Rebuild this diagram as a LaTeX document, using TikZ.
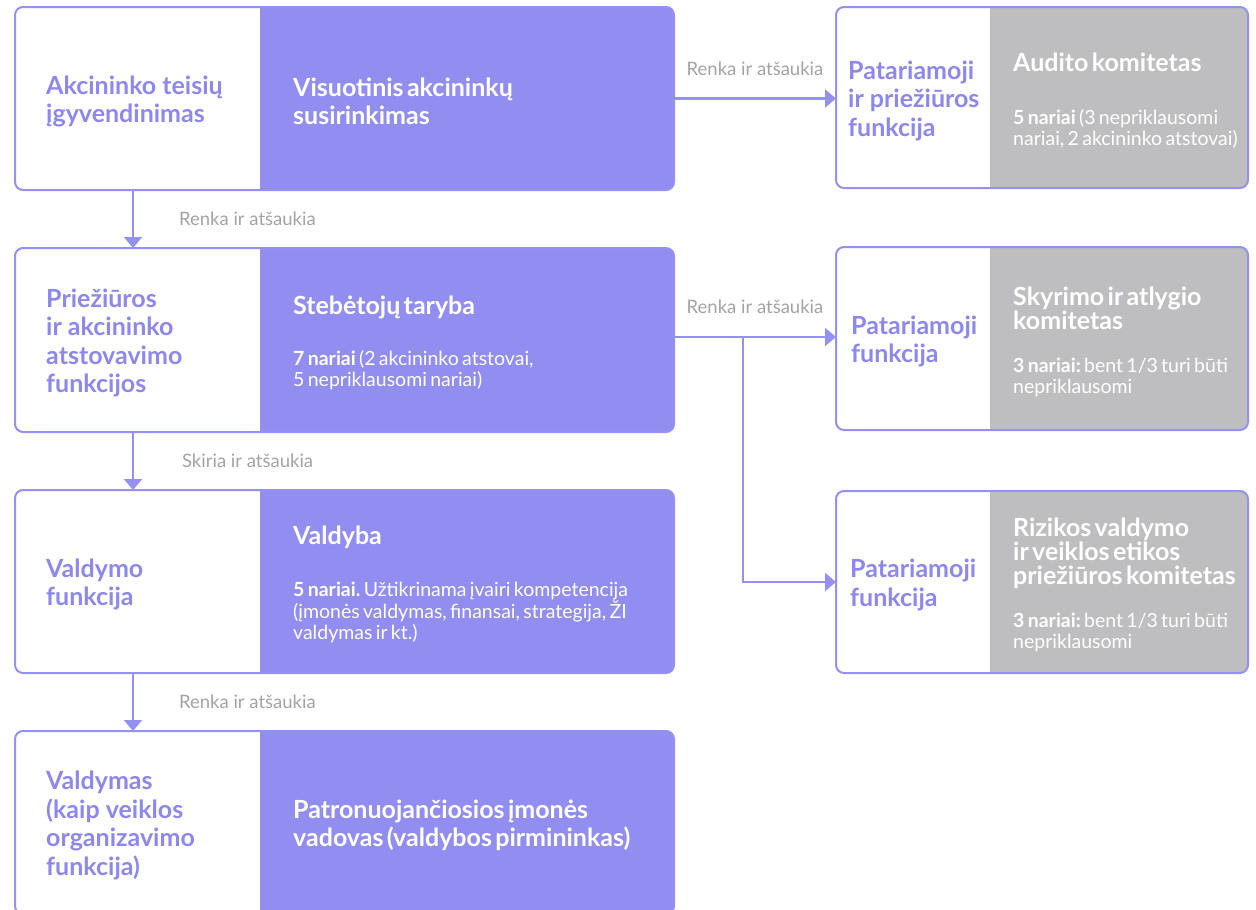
\documentclass[tikz,border=0pt]{standalone}
\usepackage{fontspec}
\setmainfont{Lato}
\usetikzlibrary{arrows.meta, positioning}

\definecolor{pviolet}{HTML}{918DF1}
\definecolor{pedge}{HTML}{9591F2}
\definecolor{ptext}{HTML}{8D88EE}
\definecolor{pgrey}{HTML}{BEBEC0}
\definecolor{lgrey}{HTML}{A3A3A3}

\newcommand{\headfont}{\fontsize{25}{28.5}\selectfont\bfseries}
\newcommand{\comfont}{\fontsize{25}{24}\selectfont\bfseries}
\newcommand{\subfont}{\fontsize{19.5}{21}\selectfont\frenchspacing}

\tikzset{
  panel/.style n args={3}{draw=pedge, line width=2pt, rounded corners=8pt,
    fill=white, inner sep=0pt, outer sep=0pt, minimum width=#1,
    minimum height=183pt,
    path picture={\fill[#3, sharp corners]
      ([xshift=#2]path picture bounding box.south west)
      rectangle (path picture bounding box.north east);}},
  lefttxt/.style={anchor=west, align=left, text=ptext, font=\headfont,
    inner sep=0pt, yshift=-3pt},
  righttxt/.style={anchor=west, align=left, text=white, inner sep=0pt,
    text width=#1, yshift=-3pt},
  lbl/.style={font=\fontsize{18.5}{20}\selectfont, text=lgrey, inner sep=0pt},
  flow/.style={draw=pedge, line width=2.2pt,
    -{Triangle[length=11pt, width=18pt]}}
}

\begin{document}
\begin{tikzpicture}[x=1pt, y=-1pt]
\useasboundingbox (0,0) rectangle (1256,910);

% Left column
\node[panel={659pt}{245pt}{pviolet}, anchor=north west] (sgm) at (15,7) {};
\node[panel={659pt}{245pt}{pviolet}, minimum height=184pt, below=58pt of sgm] (st) {};
\node[panel={659pt}{245pt}{pviolet}, below=58pt of st] (vld) {};
\node[panel={659pt}{245pt}{pviolet}, below=58pt of vld] (ceo) {};

% Right column (committees)
\node[panel={412pt}{154pt}{pgrey}, minimum height=181pt, anchor=north west] (audit) at (836,7) {};
\node[panel={412pt}{154pt}{pgrey}, below=59pt of audit] (skyr) {};
\node[panel={412pt}{154pt}{pgrey}, minimum height=182pt, below=61pt of skyr] (rizk) {};

% Functions
\node[lefttxt] (sgmf) at ([xshift=31pt]sgm.west) {Akcininko teisių\\įgyvendinimas};
\node[lefttxt] (stf) at ([xshift=31pt]st.west) {Priežiūros\\ir akcininko\\atstovavimo\\funkcijos};
\node[lefttxt] (vldf) at ([xshift=31pt]vld.west) {Valdymo\\funkcija};
\node[lefttxt] (ceof) at ([xshift=31pt]ceo.west) {Valdymas\\(kaip veiklos\\organizavimo\\funkcija)};
\node[lefttxt] (auditf) at ([xshift=12pt]audit.west) {Patariamoji\\ir priežiūros\\funkcija};
\node[lefttxt] (skyrf) at ([xshift=15pt]skyr.west) {Patariamoji\\funkcija};
\node[lefttxt] (rizkf) at ([xshift=14pt]rizk.west) {Patariamoji\\funkcija};

% Bodies
\node[righttxt=370pt] (sgmt) at ([xshift=278pt]sgm.west)
  {{\headfont Visuotinis akcininkų\\susirinkimas\par}};
\node[righttxt=370pt] (stt) at ([xshift=278pt]st.west)
  {{\headfont Stebėtojų taryba\par}\vspace{30pt}%
   {\subfont\textbf{7 nariai} (2 akcininko atstovai,\\5 nepriklausomi nariai)\par}};
\node[righttxt=375pt] (vldt) at ([xshift=278pt]vld.west)
  {{\headfont Valdyba\par}\vspace{31pt}%
   {\subfont\textbf{5 nariai.} Užtikrinama įvairi kompetencija\\(įmonės valdymas, finansai, strategija, ŽI\\valdymas ir kt.)\par}};
\node[righttxt=375pt] (ceot) at ([xshift=278pt]ceo.west)
  {{\headfont Patronuojančiosios įmonės\\vadovas (valdybos pirmininkas)\par}};
\node[righttxt=245pt] (auditt) at ([xshift=177pt]audit.west)
  {{\comfont Audito komitetas\par}\vspace{32pt}%
   {\subfont\textbf{5 nariai} (3 nepriklausomi\\nariai, 2 akcininko atstovai)\par}};
\node[righttxt=245pt] (skyrt) at ([xshift=177pt]skyr.west)
  {{\comfont Skyrimo ir atlygio\\komitetas\par}\vspace{22pt}%
   {\subfont\textbf{3 nariai:} bent 1/3 turi būti\\nepriklausomi\par}};
\node[righttxt=245pt] (rizkt) at ([xshift=177pt]rizk.west)
  {{\comfont Rizikos valdymo\\ir veiklos etikos\\priežiūros komitetas\par}\vspace{22pt}%
   {\subfont\textbf{3 nariai:} bent 1/3 turi būti\\nepriklausomi\par}};

% Connectors
\draw[flow] ([xshift=118pt]sgm.south west) -- node[lbl, right=45pt] {Renka ir atšaukia} ([xshift=118pt]st.north west);
\draw[flow] ([xshift=118pt]st.south west) -- node[lbl, right=48pt] {Skiria ir atšaukia} ([xshift=118pt]vld.north west);
\draw[flow] ([xshift=118pt]vld.south west) -- node[lbl, right=45pt] {Renka ir atšaukia} ([xshift=118pt]ceo.north west);
\draw[flow] (sgm.east) -- node[lbl, above=22pt] {Renka ir atšaukia} (sgm.east -| audit.west);
\draw[flow] ([yshift=3pt]st.east) -- node[lbl, above=22pt] {Renka ir atšaukia} ([yshift=3pt]st.east -| skyr.west);
\coordinate (br) at ([xshift=69pt, yshift=3pt]st.east);
\draw[flow] (br) |- (rizk.west);
\end{tikzpicture}
\end{document}
